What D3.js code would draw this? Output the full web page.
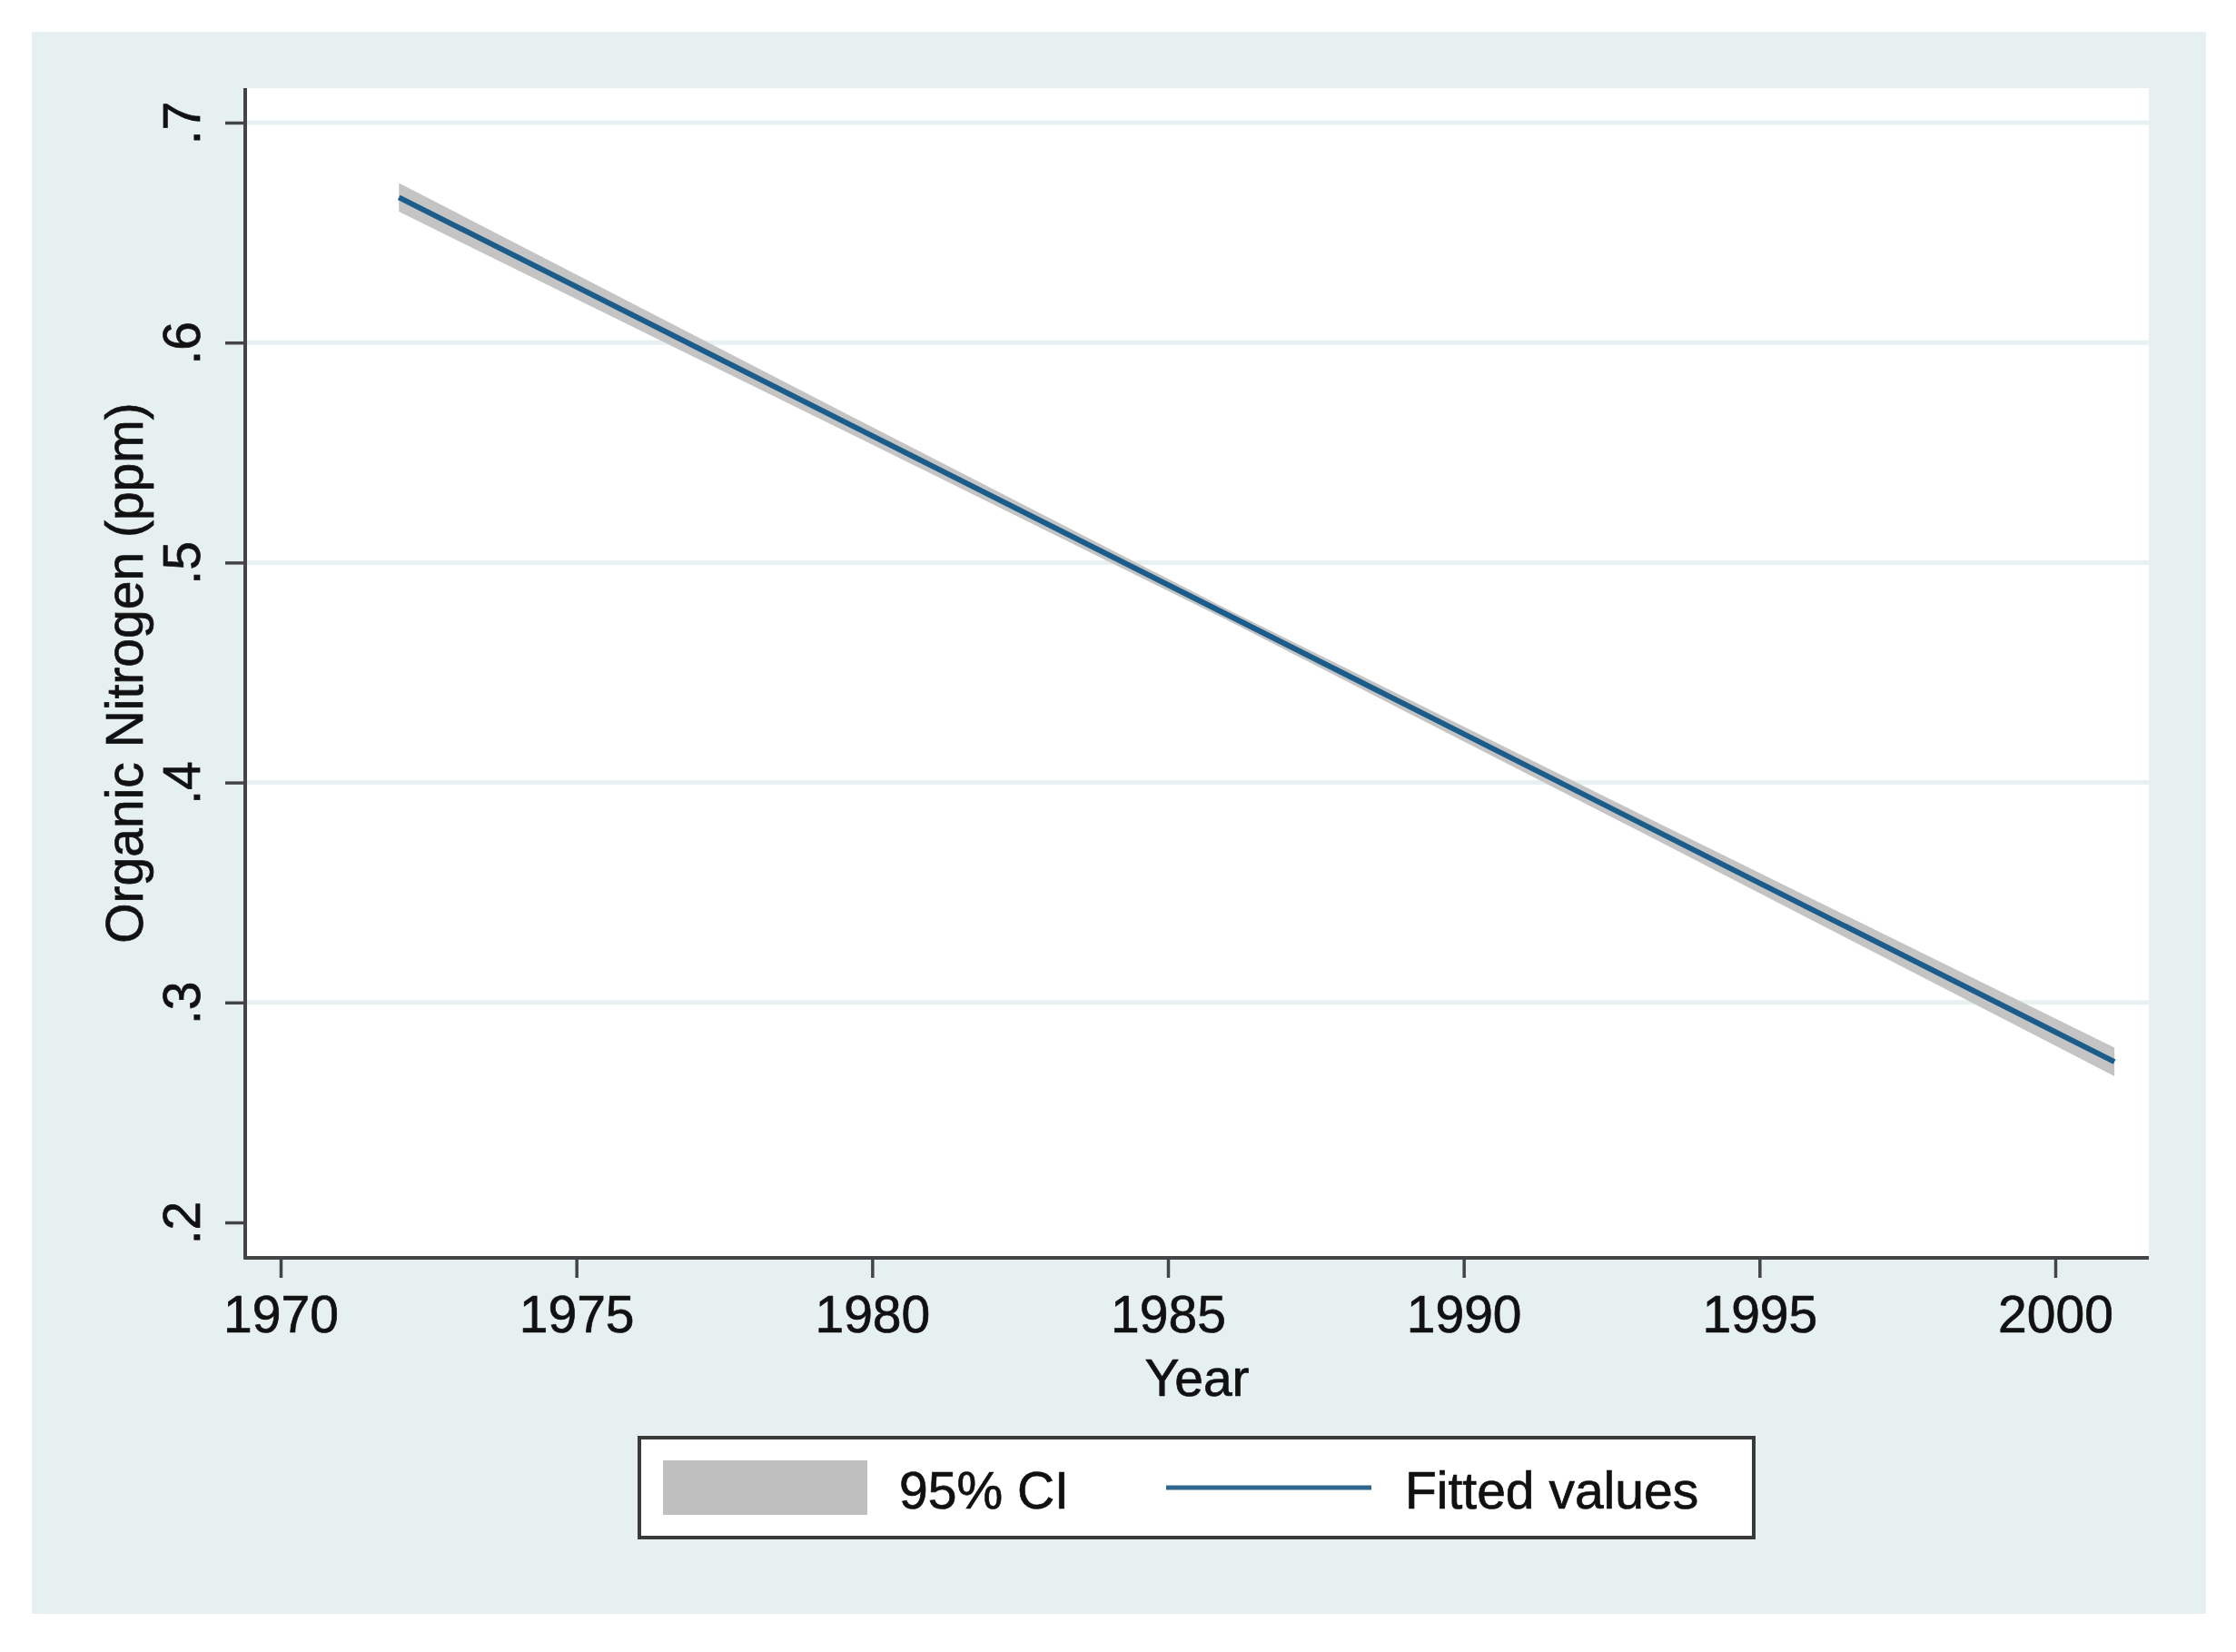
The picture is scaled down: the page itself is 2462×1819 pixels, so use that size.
<!DOCTYPE html>
<html>
<head>
<meta charset="utf-8">
<script src="https://cdn.jsdelivr.net/npm/d3@7/dist/d3.min.js"></script>
<style>
  html, body { margin: 0; padding: 0; background: #ffffff; }
  svg text { font-family: "Liberation Sans", Arial, Helvetica, sans-serif; fill: #111; stroke: #111; stroke-width: 0.7px; }
</style>
</head>
<body>
<svg id="chart" width="2462" height="1819"></svg>
<script>
// ---- data ----
const years    = [1972, 1980, 1986, 1993, 2001];
const fitted   = [0.666, 0.5576, 0.4763, 0.3814, 0.273];
const ciLower  = [0.6595, 0.5536, 0.4738, 0.3774, 0.2665];
const ciUpper  = [0.6725, 0.5616, 0.4788, 0.3854, 0.2795];
const xTicks   = [1970, 1975, 1980, 1985, 1990, 1995, 2000];
const yTicks   = [0.2, 0.3, 0.4, 0.5, 0.6, 0.7];
const yGrid    = [0.3, 0.4, 0.5, 0.6, 0.7];
const xTitle   = "Year";
const yTitle   = "Organic Nitrogen (ppm)";
const legendLabels = ["95% CI", "Fitted values"];

// ---- layout ----
const W = 2462, H = 1819;
const bg = { x0: 35, y0: 35, x1: 2429, y1: 1777 };
const plot = { left: 270, right: 2366, top: 97, bottom: 1385 };
const FS = 57;

const svg = d3.select("#chart");

svg.append("rect").attr("x", bg.x0).attr("y", bg.y0)
  .attr("width", bg.x1 - bg.x0).attr("height", bg.y1 - bg.y0)
  .attr("fill", "#e6f0f1");

svg.append("rect").attr("x", plot.left).attr("y", plot.top)
  .attr("width", plot.right - plot.left).attr("height", plot.bottom - plot.top)
  .attr("fill", "#ffffff");

const x = d3.scaleLinear().domain([1970, 2000]).range([309, 2263]);
const y = d3.scaleLinear().domain([0.2, 0.7]).range([1346, 135]);

// gridlines
svg.append("g").selectAll("line").data(yGrid).join("line")
  .attr("x1", plot.left).attr("x2", plot.right)
  .attr("y1", d => y(d)).attr("y2", d => y(d))
  .attr("stroke", "#e8f1f2").attr("stroke-width", 5);

const data = years.map((yr, i) => ({ yr, f: fitted[i], lo: ciLower[i], hi: ciUpper[i] }));

// CI band
svg.append("path").datum(data)
  .attr("d", d3.area().x(d => x(d.yr)).y0(d => y(d.lo)).y1(d => y(d.hi)))
  .attr("fill", "#c4c4c4");

// fitted line
svg.append("path").datum(data)
  .attr("d", d3.line().x(d => x(d.yr)).y(d => y(d.f)))
  .attr("fill", "none").attr("stroke", "#1b5c8a").attr("stroke-width", 6);

// x axis
const xAxisG = svg.append("g").attr("transform", `translate(0,${plot.bottom})`)
  .call(d3.axisBottom(x).tickValues(xTicks).tickFormat(d3.format("d")).tickSize(22).tickPadding(20));
xAxisG.select(".domain").remove();
xAxisG.selectAll(".tick line").attr("stroke", "#444").attr("stroke-width", 3.5);
xAxisG.selectAll(".tick text").attr("font-size", FS).attr("fill", "#111")
  .attr("font-family", "Liberation Sans, Arial, sans-serif");

// y axis
const yAxisG = svg.append("g").attr("transform", `translate(${plot.left},0)`)
  .call(d3.axisLeft(y).tickValues(yTicks).tickSize(22)
    .tickFormat(d => d3.format(".1f")(d).replace(/^0/, "")));
yAxisG.select(".domain").remove();
yAxisG.selectAll(".tick line").attr("stroke", "#444").attr("stroke-width", 3.5);
yAxisG.selectAll(".tick text").attr("font-size", FS).attr("fill", "#111")
  .attr("font-family", "Liberation Sans, Arial, sans-serif")
  .attr("x", null).attr("dy", null)
  .attr("text-anchor", "middle")
  .attr("transform", "translate(-50,0) rotate(-90)");

// axis lines
svg.append("line").attr("x1", plot.left).attr("x2", plot.left)
  .attr("y1", plot.top).attr("y2", plot.bottom + 1.5)
  .attr("stroke", "#444").attr("stroke-width", 4);
svg.append("line").attr("x1", plot.left - 1.5).attr("x2", plot.right)
  .attr("y1", plot.bottom).attr("y2", plot.bottom)
  .attr("stroke", "#444").attr("stroke-width", 4);

// titles
svg.append("text").attr("x", (plot.left + plot.right) / 2).attr("y", 1537)
  .attr("text-anchor", "middle").attr("font-size", FS).text(xTitle);
svg.append("text")
  .attr("transform", `translate(157,${(plot.top + plot.bottom) / 2}) rotate(-90)`)
  .attr("text-anchor", "middle").attr("font-size", FS).text(yTitle);

// legend
const lg = svg.append("g");
lg.append("rect").attr("x", 704).attr("y", 1583).attr("width", 1227).attr("height", 110)
  .attr("fill", "#ffffff").attr("stroke", "#3a3a3a").attr("stroke-width", 4);
lg.append("rect").attr("x", 730).attr("y", 1608).attr("width", 225).attr("height", 60)
  .attr("fill", "#bfbfbf");
lg.append("text").attr("x", 990).attr("y", 1661).attr("font-size", FS).text(legendLabels[0]);
lg.append("line").attr("x1", 1284).attr("x2", 1510).attr("y1", 1638).attr("y2", 1638)
  .attr("stroke", "#2f6690").attr("stroke-width", 5);
lg.append("text").attr("x", 1547).attr("y", 1661).attr("font-size", FS).text(legendLabels[1]);
</script>
</body>
</html>
